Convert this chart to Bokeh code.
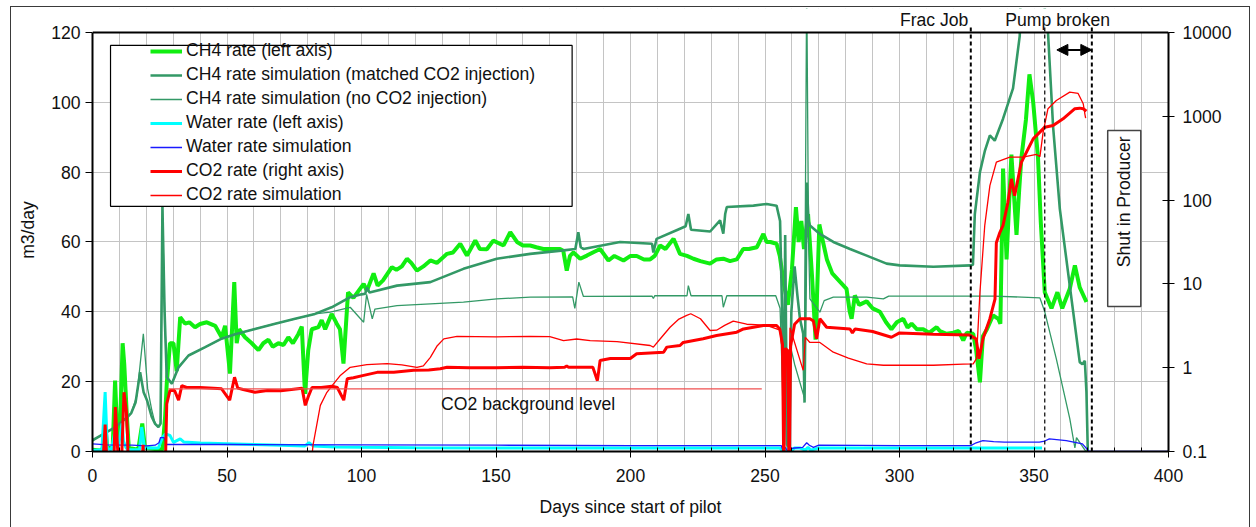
from bokeh.plotting import figure
from bokeh.models import (Range1d, LogScale, LogAxis, SingleIntervalTicker, FixedTicker,
                          CustomJSTickFormatter, Legend, LegendItem, Span, Label, Arrow,
                          NormalHead, BoxAnnotation, ColumnDataSource, InlineStyleSheet)
from bokeh.embed import file_html
from bokeh.resources import INLINE

# ---------------- data (day, value) ----------------
ch4_rate = [(0,0.5),(3,0.3),(4,1),(4.7,8),(5.5,1),(7.5,1),(8.4,20.3),(9.3,3),(10.2,6),(11.2,31),(11.8,25),
    (12.8,9.8),(13.5,1),(17,0.5),(18.5,8),(19.5,1),(26,0.5),(27,10),(27.6,19.4),(28.8,31),(30.1,31),(31.3,23),
    (32.6,38.5),(34.4,36.6),(36,37),(38.1,35.6),(40,36.5),(42.5,37),(45.6,36),(48,32.7),(49.3,36),(51.1,22.3),
    (52.7,48.5),(53.6,31),(54.5,35),(56.7,32.7),(59.2,31),(61.7,29),(63.5,31),(65.4,32),(67,30),(69.1,31),
    (71,30.5),(72.8,32.7),(74.5,31),(76.5,33.6),(77.8,35.8),(79,16.5),(80.2,29),(81.5,35),(84,35.6),(85.2,37.6),
    (86.5,35),(88.9,39.4),(90.8,36.6),(92,35),(93.3,25.2),(95,45.6),(97,44),(100.8,48),(102,46),(104.5,51),
    (106,47.5),(108,49),(111.3,52.8),(113,52),(115,53),(116.9,55.2),(118.5,54),(120.6,51.8),(123,53),(125.6,54.7),
    (128,54),(131.8,56.6),(134,57),(136.7,59.5),(139.2,56.1),(142.3,60.4),(144,58),(146.6,57.9),(149,60.4),
    (152.8,59),(155.3,62.8),(157.8,60),(160,59),(162.7,59),(165,58.5),(167.6,58),(170,58),(173.8,58),(175,57.5),
    (176.3,51.8),(177.5,56),(178.8,57),(181.3,55.2),(183.8,56.1),(186,57),(188.7,58),(191.8,54.7),(194,56),
    (197.4,54.7),(200,56),(202.3,56),(205,55),(207.3,55),(209,56),(211,59),(213,58),(216,60.9),(218.4,56.6),
    (221,56),(223.4,55.2),(226,54.5),(229.6,53.8),(232,55),(234.5,55.2),(237,54.5),(239.5,55),(241.9,58),(244,58),
    (247,58.5),(249.4,62.3),(250.6,60),(252,60),(254.3,59.5),(255.5,56),(257,48),(258.5,42),(260,52),(261.5,70),
    (262.5,60),(263.5,66),(264.5,58),(266,68),(267.5,50),(268.8,32),(270.2,65),(271,62),(273,55),(275,51),
    (278,48.5),(280.3,46.6),(281.5,40),(282.2,38),(283.4,44.7),(285,42),(287.8,43),(290,41),(292.7,40),(295,37),
    (297,35),(299,37),(301.4,38),(303,35.5),(304.5,36.6),(306.5,35),(308.8,35),(311,34),(313.8,35.6),(315,34.5),
    (317.5,33.7),(320,34),(322,34.5),(323.7,31.8),(325,34),(327.4,33.7),(328.5,29),(329.9,19.8),(331,33),
    (332.5,35),(334.8,39),(336.7,38),(337.5,36.6),(338.5,81),(339.8,55),(341.6,85),(343.5,62),(344.5,75),
    (345.3,84),(347,95),(348.3,108),(349.7,100),(351.5,84),(352.5,66),(354,45.6),(356.5,41),(358.7,45.6),
    (360.5,41),(363.3,46.6),(365.2,53.3),(367,47),(369.5,42.8)]

ch4_sim_matched = [(0,3.2),(4,5),(8.5,7),(12.9,9.8),(14.4,11),(16,14),(17.7,22.7),(19,17),(20.3,14.6),(22,10),
    (23.3,7.9),(24.5,7),(25.3,8),(26,70),(26.8,40),(27.6,21.3),(29.5,19.4),(31.9,24),(35.7,27.5),(41.9,29.9),
    (48,32.3),(53,33.6),(60.4,35.1),(67.9,36.6),(75.3,38),(82.7,39.4),(88.9,41.3),(95.8,44.2),(100,45),(101.4,45.2),
    (102,47),(103,45.5),(113.2,47.5),(125.6,48.5),(137.9,52.3),(150.3,55.2),(162.7,56.6),(175.1,57.6),(179.5,58),
    (180.6,62.8),(181.5,58.5),(182.5,58),(196.1,60),(208,59.5),(208.5,57),(209.7,60.9),(218.4,63.8),(220.5,64.5),
    (221.5,68),(222.5,63.5),(229.6,63),(233.3,66.2),(234.5,62.4),(235.2,68),(235.8,70),(245.7,70.4),(250.6,70.9),
    (254.3,70.4),(255.6,66),(256.5,35),(257,2),(257.5,62),(258.2,2),(259,1),(259.8,40),(261,53),(262,45),(263,38),
    (264.2,33.7),(264.7,14),(265.5,77),(266.2,66),(266.7,64.7),(270.4,62.3),(275.4,60),(281.6,58),(287.8,56.1),
    (295.2,53.8),(300.1,53.3),(312.6,52.9),(326.5,53.3),(327.3,53.5),(328,68),(329.9,80),(331.7,86),(333.6,90.5),
    (335.4,89),(338.5,95.3),(342.2,104),(344.7,119),(345.5,150),(350,150),(355.2,120),(357.1,93),(359.6,69.5),
    (363.3,47.5),(367,25.6),(368,25),(368.9,26),(369.5,17),(370,0)]

ch4_sim_no_co2 = [(0,3.2),(4,5),(8.5,7),(12.9,9.8),(14.4,11),(16.5,16),(18.9,33.7),(20.5,18),(22,12),(23.3,7.9),
    (24.5,7),(25.3,8),(26,70),(26.8,40),(27.6,21.3),(29.5,19.4),(31.9,24),(35.7,27.5),(41.9,29.9),(48,32.3),
    (53,33.6),(60.4,35.1),(67.9,36.6),(75.3,38),(82.7,39.4),(88.4,39.9),(95.8,41.3),(100.8,37),(101.9,45),(104,38),
    (105,40.8),(113.2,41.8),(125.6,42.3),(137.9,42.8),(150.3,43.7),(162.7,44.2),(178.5,44.3),(179.3,41),
    (180.8,48.5),(182.5,44.4),(208,44.5),(208.5,43.8),(209,44.6),(221,44.6),(221.5,47.5),(222.5,44.6),(234,44.6),
    (234.5,41.3),(235.8,44.6),(254,44.6),(255.6,41),(256.5,20),(257,1),(257.5,40),(258.2,1),(259.5,30),(261,25),
    (264.6,15.5),(265.5,135),(266.2,60),(266.7,43.7),(270.4,39.9),(272,43.2),(275.4,44.2),(287.8,44.2),(294,43.7),
    (296,44.5),(335,44.5),(352.2,44),(354,40),(358.3,26.5),(363.3,9.4),(365.2,1),(365.8,4),(369,0.3),(370,0)]

water_rate = [(0,0.3),(3.5,0.5),(4.7,17),(5.5,1),(7,0.5),(8.4,6),(9.5,1),(11,8),(11.5,3),(12.5,1),(13.5,0.5),
    (17.5,0.5),(18.3,7),(19.3,1),(24.5,1),(26,4),(27.1,5),(28.8,4.6),(30.1,2.6),(32.6,3.6),(34,2.7),(40,2.4),
    (50,2.2),(60,2),(70,1.8),(79,1.6),(80.5,2.5),(82,1.6),(90,1.3),(100,1.2),(120,1.1),(150,1.0),(200,1.0),
    (250,1.0),(255.5,1.0),(256.5,0.2),(257.5,0),(258.5,1.0),(259.5,0),(261,1.0),(263,1.0),(265,0.4),(266,1.2),
    (267,0.4),(270,1.0),(300,1.0),(330,1.0),(353,1.0)]

water_sim = [(0,2.2),(5.5,1.9),(14.7,1.8),(20,1.6),(23.3,1.8),(24.7,2.5),(25.3,4),(26.5,4),(27.6,2.0),(50,2.0),
    (100,1.9),(150,1.8),(200,1.7),(256,1.7),(256.8,0),(257.5,1.2),(258.5,0),(259.5,0.8),(261,1.0),(264,1.2),
    (265.5,2.5),(266.5,1.8),(268,1.2),(270,1.8),(300,1.7),(326.5,1.7),(328.5,2.5),(331,3.1),(335,2.8),(339,2.7),
    (352,2.7),(354,3.0),(355.7,3.6),(362,3.1),(368,2.2),(370.5,0),(400,0)]

co2_rate = [(0,0.05),(3.6,0.05),(4.7,0.21),(5.6,0.05),(7.8,0.05),(8.5,0.34),(9.9,0.05),(10.6,0.05),(11.7,0.51),
    (12.6,0.3),(13,0.16),(13.4,0.05),(18.2,0.05),(18.8,0.12),(19.3,0.05),(27,0.05),(27.6,0.37),(28.8,0.535),
    (30.5,0.535),(32,0.41),(33.2,0.61),(35,0.58),(40,0.58),(45,0.57),(48,0.56),(51,0.41),(52.8,0.77),(54,0.57),
    (56,0.55),(60.4,0.51),(65,0.535),(70,0.53),(77.9,0.57),(79.1,0.355),(80.2,0.45),(81.6,0.58),(85,0.58),
    (89,0.6),(91,0.58),(93.4,0.41),(94.7,0.74),(97,0.76),(100.8,0.81),(105.8,0.88),(112,0.88),(119.4,0.93),
    (125,0.94),(129.3,0.97),(131.8,1.01),(140,1.0),(150,1.0),(160,1.01),(170,1.0),(175.5,1.01),(176.3,1.05),
    (177,1.01),(186,1.01),(187.7,0.70),(188.7,1.22),(192.5,1.29),(199.9,1.29),(202.3,1.47),(212.3,1.53),
    (213.5,1.76),(218.4,1.84),(219.6,2.0),(227,2.21),(232,2.42),(239.5,2.65),(242,2.9),(249.4,3.19),(254.3,3.19),
    (255.5,2.9),(256.5,1.9),(257,0.05),(257.5,1.7),(258.5,1.6),(259,0.05),(259.5,1.8),(261,3.3),(263,3.84),
    (266.7,3.84),(268,3.6),(269.2,2.21),(270.4,3.84),(272.9,3.04),(281.6,2.9),(282.5,2.6),(283.5,2.9),(290,2.7),
    (297,2.31),(300,2.6),(312.6,2.5),(326.1,2.45),(327.5,2.3),(328.5,2.2),(329.6,1.28),(331,2.2),(333.6,3.84),
    (335.5,6.6),(336,31),(337.3,41),(338.5,50),(340.3,94),(341.6,179),(342.8,113),(345.3,283),(349.7,538),
    (354,741),(357.1,776),(360.8,933),(365.2,1230),(367,1250),(368.3,1230),(369.5,1150)]

co2_sim = [(80.8,0.05),(82,0.12),(84.7,0.355),(87,0.5),(89.6,0.64),(92,0.8),(95.8,1.01),(102,1.09),(109.5,1.12),
    (115,1.08),(120.6,1.01),(123,1.05),(125.6,1.33),(128,1.8),(130.6,2.21),(135.5,2.37),(150,2.33),(162.7,2.37),
    (170,2.35),(175.1,2.1),(180,2.2),(185,2.1),(195,2.05),(207.3,1.84),(208.5,1.76),(211,2.2),(214.7,3.04),
    (218,3.8),(220.9,4.2),(222.4,4.4),(226,3.84),(229.6,2.78),(232,2.8),(235,3.2),(238.2,3.6),(243.2,3.3),
    (250.6,3.2),(254.3,2.9),(255.6,2.8),(256.5,1.5),(257,0.05),(258.5,0.05),(259.3,3.0),(264.2,0.93),(265,2.3),
    (266.7,2.0),(270.4,2.0),(275.4,1.53),(281,1.3),(287.8,1.11),(294,1.07),(312.6,1.07),(323.7,1.1),(327.4,1.11),
    (328.6,1.28),(329.9,7.9),(331.7,50),(333.6,149),(336,283),(341,325),(345.9,325),(350.9,350),(352.2,330),
    (353.4,646),(355.2,1230),(358.3,1540),(363.3,1940),(366.4,1870),(368.3,1410),(368.9,1070),(369.2,950)]

co2_background = [(28.2, 0.56), (248.8, 0.56)]

event_days = {"frac": 326.5, "pump": 354.0, "shutin": 371.5}

FONT = "Liberation Sans"
FS = "17.6px"

Y_MAX = 120.0                     # top of the left axis
Y_TOP = 126.86                    # frame extends a little above the axis for the event labels
LOG_LO, LOG_HI = 0.1, 10000.0     # right (log) axis
LOG_TOP = 10 ** (-1 + 5 * Y_TOP / Y_MAX)

def src(pairs):
    return ColumnDataSource(dict(x=[a for a, b in pairs], y=[b for a, b in pairs]))

# thin frame around the whole chart area (drawn by CSS, does not affect layout)
chart_border = InlineStyleSheet(css=""":host::after { content: ""; position: absolute; left: 10px; top: 6px;
    right: 6px; bottom: 0px; border: 1px solid #3a3a3a; border-bottom: none; pointer-events: none; }""")

p = figure(width=1256, height=527, output_backend="svg", toolbar_location=None,
           x_range=Range1d(0, 400), y_range=Range1d(0, Y_TOP),
           min_border_left=92, min_border_right=88, min_border_top=8, min_border_bottom=76)
p.stylesheets = [chart_border]

p.extra_y_ranges = {"co2": Range1d(LOG_LO, LOG_TOP)}
p.extra_y_scales = {"co2": LogScale()}

p.outline_line_alpha = 0
p.background_fill_color = "white"
p.border_fill_color = "white"

# axes
xa = p.xaxis[0]
xa.ticker = SingleIntervalTicker(interval=50, num_minor_ticks=5)
xa.axis_label = "Days since start of pilot"
xa.major_tick_out = 6
xa.major_tick_in = 4
xa.minor_tick_in = 4
xa.minor_tick_out = 0
xa.major_label_standoff = 11
xa.axis_label_standoff = 12

ya = p.yaxis[0]
ya.ticker = SingleIntervalTicker(interval=20, num_minor_ticks=0)
ya.bounds = (0, Y_MAX)
ya.axis_label = "m3/day"
ya.major_tick_out = 7
ya.major_tick_in = 0
ya.major_label_standoff = 5
ya.axis_label_standoff = 10

ra = LogAxis(y_range_name="co2", ticker=FixedTicker(ticks=[0.1, 1, 10, 100, 1000, 10000]),
             formatter=CustomJSTickFormatter(code="return tick.toString()"), bounds=(LOG_LO, LOG_HI))
ra.major_tick_out = 6
ra.major_tick_in = 6
ra.major_label_standoff = 8
p.add_layout(ra, "right")

for ax in (xa, ya, ra):
    ax.axis_line_width = 2
    ax.axis_line_color = "black"
    ax.major_tick_line_color = "black"
    ax.minor_tick_line_color = "black"
    ax.major_label_text_font = FONT
    ax.major_label_text_font_size = FS
    ax.major_label_text_color = "#111111"
    ax.axis_label_text_font = FONT
    ax.axis_label_text_font_size = FS
    ax.axis_label_text_font_style = "normal"
    ax.axis_label_text_color = "#111111"

p.xgrid.ticker = SingleIntervalTicker(interval=10)
p.xgrid.grid_line_color = "#c4c4c4"
p.ygrid.grid_line_color = "#c4c4c4"

# series: (name, data, colour, width, axis)
series = [
    ("CH4 rate (left axis)", ch4_rate, "#11ee11", 4, "default"),
    ("CH4 rate simulation (matched CO2 injection)", ch4_sim_matched, "#339966", 2.6, "default"),
    ("CH4 rate simulation (no CO2 injection)", ch4_sim_no_co2, "#339966", 1.3, "default"),
    ("Water rate (left axis)", water_rate, "#00ffff", 3, "default"),
    ("Water rate simulation", water_sim, "#1a1aff", 1.3, "default"),
    ("CO2 rate (right axis)", co2_rate, "#ff0000", 3, "co2"),
    ("CO2 rate simulation", co2_sim, "#ff0000", 1.3, "co2"),
]

items = []
for name, data, col, w, rng in series:
    r = p.line("x", "y", source=src(data), line_color=col, line_width=w, y_range_name=rng)
    items.append(LegendItem(label=name, renderers=[r]))

p.line("x", "y", source=src(co2_background), line_color="#f05050", line_width=1.2, y_range_name="co2")

# white strip above the axis top (clips marks, hides grid), then the top frame line
p.add_layout(BoxAnnotation(bottom=Y_MAX, fill_color="white", fill_alpha=1, line_alpha=0))
p.add_layout(Span(location=Y_MAX, dimension="width", line_color="black", line_width=2))

# event lines (dashed), reaching a little above the plot top
for key, w in (("frac", 2), ("pump", 1.2), ("shutin", 2)):
    p.add_layout(Arrow(start=None, end=None, x_start=event_days[key], x_end=event_days[key],
                       y_start=0, y_end=121.7, line_color="black", line_width=w, line_dash="4 3"))

p.add_layout(Arrow(start=NormalHead(size=11, fill_color="black", line_color="black"),
                   end=NormalHead(size=11, fill_color="black", line_color="black"),
                   x_start=358.5, x_end=event_days["shutin"], y_start=115, y_end=115,
                   line_width=2, line_color="black"))

def lab(x, y, text, align="left", angle=0):
    return Label(x=x, y=y, text=text, text_align=align, text_baseline="middle",
                 text_font=FONT, text_font_size=FS, text_color="#111111",
                 angle=angle, angle_units="deg")

p.add_layout(lab(325.6, 123.7, "Frac Job", "right"))
p.add_layout(lab(358.8, 123.7, "Pump broken", "center"))
p.add_layout(lab(129.6, 13.5, "CO2 background level"))

p.add_layout(BoxAnnotation(left=377.4, right=389.7, bottom=41.5, top=91.9, fill_color="white",
                           fill_alpha=1, line_color="#444444", line_width=1.5, line_alpha=1))
p.add_layout(lab(383.5, 71.5, "Shut in Producer", "center", 90))

# legend box + legend
p.add_layout(BoxAnnotation(left=6.7, right=178.3, bottom=70.2, top=116.3, fill_color="white",
                           fill_alpha=1, line_color="black", line_width=1.2, line_alpha=1))
legend = Legend(items=items, location=(56, 244), glyph_width=32, glyph_height=20, label_height=20,
                spacing=3, padding=2, margin=0, label_standoff=4, border_line_alpha=0,
                background_fill_alpha=0, label_text_font=FONT, label_text_font_size=FS,
                label_text_color="#111111")
p.add_layout(legend)

open("out.html", "w").write(file_html(p, INLINE))
